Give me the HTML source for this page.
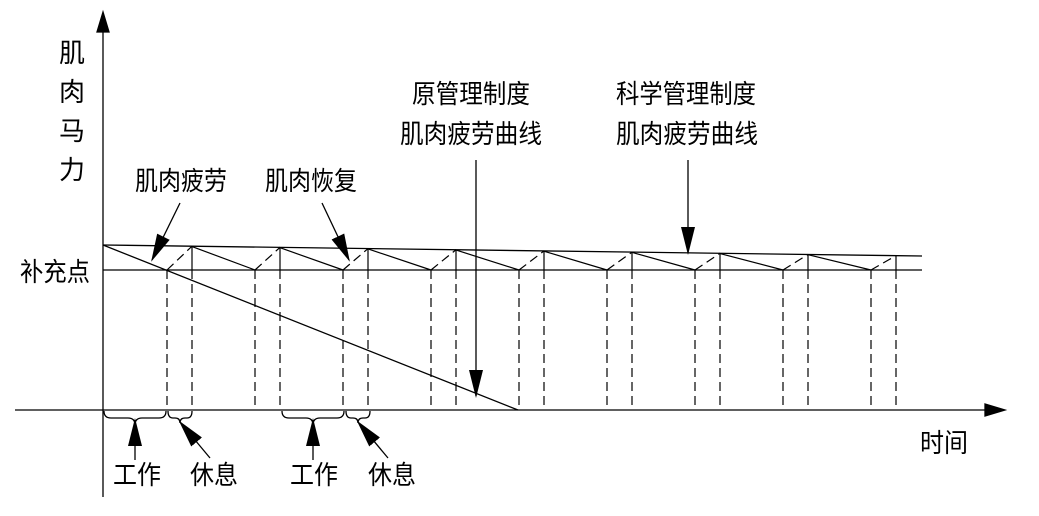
<!DOCTYPE html>
<html><head><meta charset="utf-8"><style>
html,body{margin:0;padding:0;background:#fff;}
svg text{font-family:"Liberation Sans","Noto Sans CJK SC",sans-serif;font-size:26px;fill:#000;}
</style></head><body>
<svg width="1039" height="511" viewBox="0 0 1039 511" xmlns="http://www.w3.org/2000/svg">
<defs>
<marker id="b" markerWidth="28" markerHeight="14" refX="26" refY="7" orient="auto" markerUnits="userSpaceOnUse" viewBox="0 0 28 14">
<path d="M0,0 L28,7 L0,14 z" fill="#000"/></marker>
</defs>
<g stroke="#000" stroke-width="1.3" fill="none">
<line x1="103" y1="497" x2="103" y2="30"/>
<path d="M103,12 L97,32 L109,32 z" fill="#000"/>
<line x1="15" y1="410" x2="988" y2="410"/>
<path d="M1005,410 L985,404 L985,416 z" fill="#000"/>
<line x1="103" y1="270" x2="922" y2="270"/>
<line x1="103" y1="245" x2="922" y2="256"/>
<line x1="103" y1="245" x2="518" y2="410"/>
</g>
<g id="saw" stroke="#000" stroke-width="1.2" fill="none"></g>
<g stroke="#000" stroke-width="1.3" fill="none">
<line x1="180" y1="203" x2="152" y2="260" marker-end="url(#b)"/>
<line x1="322" y1="203" x2="349" y2="260" marker-end="url(#b)"/>
<line x1="476" y1="160" x2="476" y2="396" marker-end="url(#b)"/>
<line x1="688" y1="160" x2="688" y2="253" marker-end="url(#b)"/>
<line x1="135" y1="460" x2="135" y2="420" marker-end="url(#b)"/>
<line x1="313" y1="460" x2="313" y2="420" marker-end="url(#b)"/>
<line x1="210" y1="458" x2="180" y2="422" marker-end="url(#b)"/>
<line x1="388" y1="458" x2="358" y2="422" marker-end="url(#b)"/>
<path d="M104,411 q0,7 7,7 h17 q7,0 7,7 q0,-7 7,-7 h17 q7,0 7,-7"/>
<path d="M168,411 q0,7 5,7 h2 q5,0 5,5 q0,-5 5,-5 h2 q5,0 5,-7"/>
<path d="M282,411 q0,7 7,7 h17 q7,0 7,7 q0,-7 7,-7 h17 q7,0 7,-7"/>
<path d="M346,411 q0,7 5,7 h2 q5,0 5,5 q0,-5 5,-5 h2 q5,0 5,-7"/>
</g>
<text x="59" y="62">肌</text>
<text x="59" y="101">肉</text>
<text x="59" y="140">马</text>
<text x="59" y="179">力</text>
<text x="20" y="281" textLength="70" lengthAdjust="spacingAndGlyphs">补充点</text>
<text x="135" y="190" textLength="92" lengthAdjust="spacingAndGlyphs">肌肉疲劳</text>
<text x="265" y="190" textLength="92" lengthAdjust="spacingAndGlyphs">肌肉恢复</text>
<text x="412" y="103" textLength="118" lengthAdjust="spacingAndGlyphs">原管理制度</text>
<text x="400" y="143" textLength="142" lengthAdjust="spacingAndGlyphs">肌肉疲劳曲线</text>
<text x="616" y="103" textLength="140" lengthAdjust="spacingAndGlyphs">科学管理制度</text>
<text x="616" y="143" textLength="142" lengthAdjust="spacingAndGlyphs">肌肉疲劳曲线</text>
<text x="920" y="452" textLength="48" lengthAdjust="spacingAndGlyphs">时间</text>
<text x="113" y="484" textLength="48" lengthAdjust="spacingAndGlyphs">工作</text>
<text x="190" y="484" textLength="48" lengthAdjust="spacingAndGlyphs">休息</text>
<text x="290" y="484" textLength="48" lengthAdjust="spacingAndGlyphs">工作</text>
<text x="368" y="484" textLength="48" lengthAdjust="spacingAndGlyphs">休息</text>
</svg>
<script>
(function(){
var g=document.getElementById('saw'),ns='http://www.w3.org/2000/svg';
function top(x){return 245+(x-103)*11/819;}
function L(x1,y1,x2,y2,d){var l=document.createElementNS(ns,'line');l.setAttribute('x1',x1);l.setAttribute('y1',y1);l.setAttribute('x2',x2);l.setAttribute('y2',y2);if(d)l.setAttribute('stroke-dasharray','9,5');g.appendChild(l);}
var p=88;
for(var i=0;i<9;i++){
 var s=103+i*p,w=s+64,r=s+89;
 if(i>0) L(s,top(s),w,270,false);
 L(w,270,w,410,true);
 L(w,270,r,top(r),true);
 L(r,top(r),r,270,false);L(r,270,r,410,true);
}
})();
</script>
</body></html>
